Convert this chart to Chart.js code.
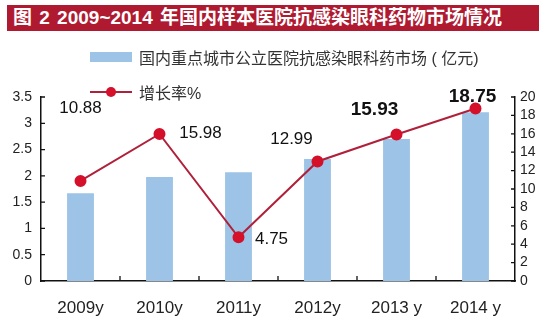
<!DOCTYPE html>
<html>
<head>
<meta charset="utf-8">
<script src="https://cdn.jsdelivr.net/npm/chart.js@4"></script>
<style>
    html, body { margin: 0; padding: 0; background: #fff; }
    #wrap { position: relative; width: 539px; height: 322px; overflow: hidden; }
    #title {
        position: absolute; left: 7px; top: 5px; width: 532px; height: 26px;
        background: #b01a30; color: #fff;
        font: bold 19px "Liberation Sans", "Noto Sans CJK SC", sans-serif;
        line-height: 26px; padding-left: 6px; box-sizing: border-box; white-space: nowrap;
        word-spacing: 2px;
    }
    .legend-item {
        position: absolute; left: 90px; height: 20px;
        font: 16px "Liberation Sans", "Noto Sans CJK SC", sans-serif; color: #333;
        display: flex; align-items: center; white-space: nowrap;
    }
    .legend-bar { width: 42px; height: 10px; background: #9dc3e6; margin-right: 7px; }
    .legend-line { position: relative; width: 42px; height: 10px; margin-right: 7px; }
    .legend-line::before {
        content: ""; position: absolute; left: 0; right: 0; top: 4px; height: 2px; background: #b0203a;
    }
    .legend-line::after {
        content: ""; position: absolute; left: 16px; top: 0; width: 10px; height: 10px;
        border-radius: 50%; background: #d4102a;
    }
    canvas { position: absolute; left: 0; top: 0; }
</style>
</head>
<body>
<div id="wrap">
    <canvas id="chart" width="539" height="322"></canvas>
    <div id="title">图 2 2009~2014 年国内样本医院抗感染眼科药物市场情况</div>
    <div class="legend-item" style="top: 47px;"><span class="legend-bar"></span>国内重点城市公立医院抗感染眼科药市场 ( 亿元)</div>
    <div class="legend-item" style="top: 82px;"><span class="legend-line"></span>增长率%</div>
</div>
<script>
const years = ['2009y', '2010y', '2011y', '2012y', '2013 y', '2014 y'];
const marketSize = [1.67, 1.98, 2.07, 2.32, 2.70, 3.21];
const growthRate = [10.88, 15.98, 4.75, 12.99, 15.93, 18.75];

// label placement around each growth point: [dx, dy, bold]
const labelOffsets = [[0, -73, false], [41, -1, false], [33, 2, false], [-26, -22, false], [-22, -25, true], [-3, -12, true]];

const axisFont = { family: '"Liberation Sans", Arial, sans-serif', size: 14 };

// short inward tick marks on the three axes
const axisTicks = {
    id: 'axisTicks',
    afterDatasetsDraw(chart) {
        const { ctx, chartArea, scales } = chart;
        ctx.save();
        ctx.strokeStyle = '#111';
        ctx.lineWidth = 1.3;
        ctx.beginPath();
        const y = scales.y, y1 = scales.y1;
        y.ticks.forEach((t, i) => {
            const py = y.getPixelForTick(i);
            ctx.moveTo(chartArea.left, py);
            ctx.lineTo(chartArea.left + 4, py);
        });
        y1.ticks.forEach((t, i) => {
            const py = y1.getPixelForTick(i);
            ctx.moveTo(chartArea.right, py);
            ctx.lineTo(chartArea.right - 4, py);
        });
        const step = (chartArea.right - chartArea.left) / years.length;
        for (let i = 1; i < years.length; i++) {
            const px = chartArea.left + step * i;
            ctx.moveTo(px, chartArea.bottom);
            ctx.lineTo(px, chartArea.bottom - 5);
        }
        ctx.stroke();
        ctx.restore();
    }
};

// growth rate values written next to the line points
const rateLabels = {
    id: 'rateLabels',
    afterDatasetsDraw(chart) {
        const { ctx } = chart;
        const meta = chart.getDatasetMeta(1);
        ctx.save();
        ctx.fillStyle = '#111';
        ctx.textAlign = 'center';
        ctx.textBaseline = 'middle';
        meta.data.forEach((pt, i) => {
            const [dx, dy, bold] = labelOffsets[i];
            ctx.font = (bold ? 'bold 19px' : '17px') + ' "Liberation Sans", Arial, sans-serif';
            ctx.fillText(growthRate[i].toFixed(2), pt.x + dx, pt.y + dy);
        });
        ctx.restore();
    }
};

new Chart(document.getElementById('chart'), {
    data: {
        labels: years,
        datasets: [
            {
                type: 'bar',
                label: '国内重点城市公立医院抗感染眼科药市场 ( 亿元)',
                data: marketSize,
                yAxisID: 'y',
                backgroundColor: '#9dc3e6',
                barPercentage: 0.34,
                categoryPercentage: 1,
                order: 1
            },
            {
                type: 'line',
                label: '增长率%',
                data: growthRate,
                yAxisID: 'y1',
                borderColor: '#b0203a',
                borderWidth: 2,
                pointBackgroundColor: '#d4102a',
                pointBorderColor: '#d4102a',
                pointRadius: 5,
                tension: 0,
                order: 0
            }
        ]
    },
    options: {
        responsive: false,
        animation: false,
        layout: { padding: { top: 97, left: 0, right: 0, bottom: 0 } },
        plugins: {
            legend: { display: false },
            tooltip: { enabled: false }
        },
        scales: {
            x: {
                grid: { display: false },
                border: { display: true, color: '#111', width: 1.5 },
                ticks: { color: '#222', padding: 9, font: { family: axisFont.family, size: 17 } },
                afterFit(scale) { scale.height = 41; }
            },
            y: {
                position: 'left',
                min: 0,
                max: 3.5,
                grid: { display: false, drawTicks: false },
                border: { display: true, color: '#111', width: 1.5 },
                ticks: {
                    stepSize: 0.5, color: '#222', padding: 9, font: axisFont, autoSkip: false,
                    callback: v => String(Number(v))
                },
                afterFit(scale) { scale.width = 41; }
            },
            y1: {
                position: 'right',
                min: 0,
                max: 20,
                grid: { display: false, drawTicks: false },
                border: { display: true, color: '#111', width: 1.5 },
                ticks: { stepSize: 2, color: '#222', padding: 5, font: axisFont, autoSkip: false },
                afterFit(scale) { scale.width = 24; }
            }
        }
    },
    plugins: [axisTicks, rateLabels]
});
</script>
</body>
</html>
